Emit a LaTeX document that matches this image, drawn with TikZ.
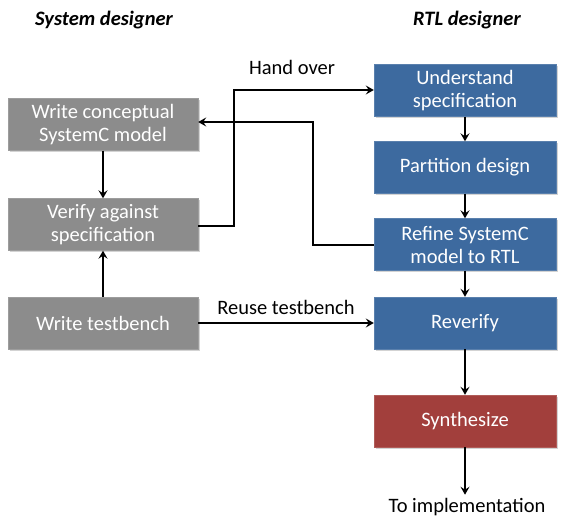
\documentclass[tikz,border=0pt]{standalone}
\usepackage{fontspec}
\setmainfont{Carlito}
\usetikzlibrary{arrows.meta,shadows}
\definecolor{boxgray}{HTML}{8C8C8C}
\definecolor{boxblue}{HTML}{3D6A9F}
\definecolor{boxred}{HTML}{A23F3C}
\begin{document}
\begin{tikzpicture}[x=1pt,y=-1pt,
  box/.style={minimum width=182pt,minimum height=52pt,inner sep=0pt,align=center,
    text=white,font=\fontsize{20.5}{23}\selectfont,
    drop shadow={opacity=0.35,shadow xshift=1.5pt,shadow yshift=-2pt}},
  graybox/.style={box,fill=boxgray,draw=boxgray!85!white,minimum width=190pt},
  bluebox/.style={box,fill=boxblue,draw=boxblue!85!white},
  redbox/.style={box,fill=boxred,draw=boxred!85!white},
  conn/.style={draw=black,line width=2pt,-{Stealth[length=8pt,width=9pt,inset=3pt]}},
  lbl/.style={font=\fontsize{20.5}{23}\selectfont},
  title/.style={font=\fontsize{20.5}{23}\selectfont\bfseries\itshape}]
\useasboundingbox (0,0) rectangle (562,518);
\node[title] (t1) at (104,20) {System designer};
\node[title] (t2) at (467,20) {RTL designer};
\node[graybox] (g1) at (103,124.5) {Write conceptual\\SystemC model};
\node[graybox] (g2) at (103,224.5) {Verify against\\specification};
\node[graybox] (g3) at (103,323) {Write testbench};
\node[bluebox] (b1) at (465,90.5) {Understand\\specification};
\node[bluebox] (b2) at (465,167.5) {Partition design};
\node[bluebox] (b3) at (465,244.5) {Refine SystemC\\model to RTL};
\node[bluebox] (b4) at (465,323) {Reverify};
\node[redbox] (r1) at (465,421) {Synthesize};
\node[lbl] (impl) at (467,507) {To implementation};
\node[lbl] (ho) at (292,67) {Hand over};
\node[lbl] (rt) at (286,307) {Reuse testbench};
\coordinate (hoA) at (234,226);
\coordinate (hoB) at (234,90);
\coordinate (fbA) at (313,245);
\coordinate (fbB) at (313,122);
\draw[conn] (g1) -- (g2);
\draw[conn] (g3) -- (g2);
\draw[conn] (g2.east |- hoA) -- (hoA) -- (hoB) -- (b1.west |- hoB);
\draw[conn] (b3.west |- fbA) -- (fbA) -- (fbB) -- (g1.east |- fbB);
\draw[conn] (g3) -- (b4);
\draw[conn] (b1) -- (b2);
\draw[conn] (b2) -- (b3);
\draw[conn] (b3) -- (b4);
\draw[conn] (b4) -- (r1);
\draw[conn] (r1.south) -- (r1.south |- impl.north);
\end{tikzpicture}
\end{document}
